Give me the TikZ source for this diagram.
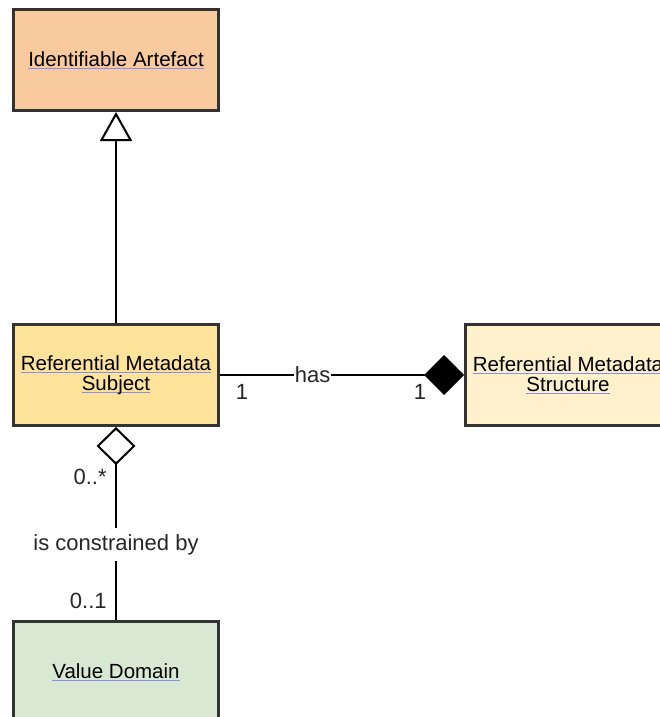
\documentclass[tikz,border=0pt]{standalone}
\usepackage{fontspec}
\setmainfont{Liberation Sans}
\usepackage{xcolor}
\usepackage{tikz}
\usetikzlibrary{arrows.meta, positioning}
\definecolor{artefactfill}{HTML}{F8CA9E}
\definecolor{subjectfill}{HTML}{FFE39B}
\definecolor{structfill}{HTML}{FFF1CC}
\definecolor{domainfill}{HTML}{D8E8D3}
\definecolor{boxline}{HTML}{333333}
\definecolor{linkline}{HTML}{8C8CEE}
\newsavebox{\lnkbox}
\newcommand{\lnk}[1]{\sbox{\lnkbox}{#1}\rlap{\textcolor{linkline}{\rule[-2.5pt]{\wd\lnkbox}{1pt}}}\usebox{\lnkbox}}
\tikzstyle{classbox} = [rectangle, minimum width=205pt, minimum height=101pt,
                        line width=3pt, draw=boxline, text centered, align=center,
                        font=\fontsize{20.5}{20}\selectfont]
\tikzstyle{assoc}    = [line width=2pt, draw=black]
\tikzstyle{lbl}      = [font=\fontsize{22}{22}\selectfont, text=black!85]

\begin{document}
\begin{tikzpicture}[x=1pt, y=-1pt]
  \useasboundingbox (0,0) rectangle (660,717);
  \clip (0,0) rectangle (660,717);

  \node[classbox, fill=artefactfill] (artefact) at (116,60)
        {\lnk{Identifiable Artefact}};
  \node[classbox, fill=subjectfill, below=211pt of artefact] (subject)
        {\lnk{Referential Metadata}\\\lnk{Subject}};
  \node[classbox, fill=structfill, right=244pt of subject] (structure)
        {\lnk{Referential Metadata}\\\lnk{Structure}};
  \node[classbox, fill=domainfill, below=193pt of subject] (domain)
        {\lnk{Value Domain}};

  % generalisation
  \draw[assoc, -{Triangle[open, length=29pt, width=32pt, fill=white]}]
        (subject.north) -- (artefact.south);
  % composition
  \draw[assoc, -{Diamond[length=40pt, width=40pt]}] (subject.east) --
        node[lbl, pos=0.38, fill=white, inner sep=0.5pt] (has) {has}
        node[lbl, pos=0.09, below, yshift=-5pt] (subjmult) {1}
        node[lbl, pos=0.82, below, yshift=-5pt] (structmult) {1}
        (structure.west);
  % aggregation
  \draw[assoc, -{Diamond[open, length=38pt, width=39pt, fill=white]}] (domain.north) --
        node[lbl, pos=0.39, fill=white, inner xsep=1pt, inner ysep=6pt] (constr) {is constrained by}
        node[lbl, pos=0.74, left, xshift=-5pt] (subjmany) {0..*}
        node[lbl, pos=0.10, left, xshift=-5pt] (domainone) {0..1}
        (subject.south);
\end{tikzpicture}
\end{document}
